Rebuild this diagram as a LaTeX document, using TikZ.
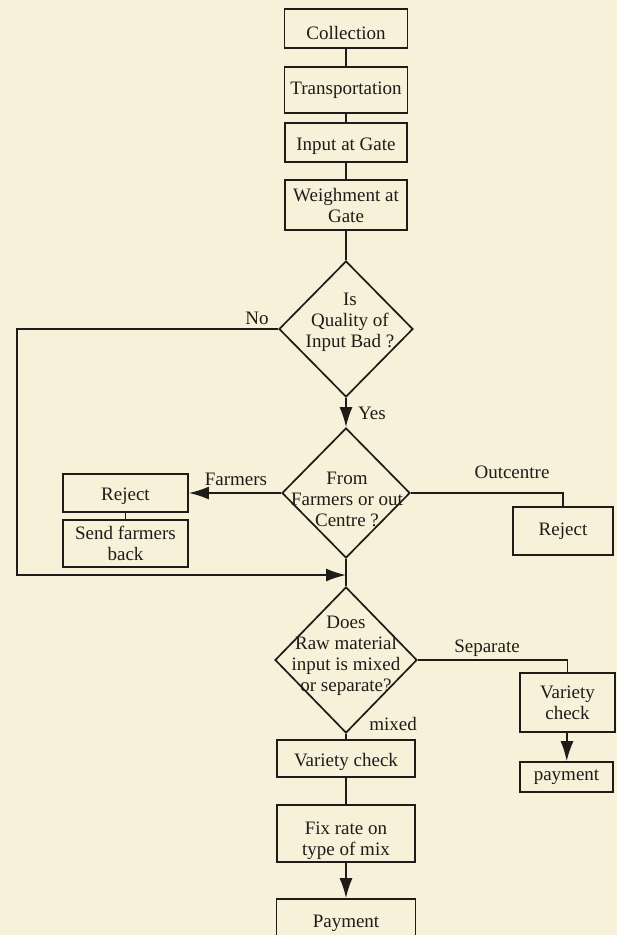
\documentclass[tikz,border=0pt]{standalone}
\usepackage{fontspec}
\setmainfont{Liberation Serif}
\usetikzlibrary{shapes.geometric,arrows.meta}
\definecolor{paper}{RGB}{246,241,216}
\definecolor{ink}{RGB}{30,28,25}
\newcommand{\lowr}[2]{\raisebox{-#1}[\height][\depth]{#2}}
\newcommand{\twol}[2]{\raisebox{-2.5pt}[\height][\depth]{\begin{tabular}{@{}c@{}}#1\\#2\end{tabular}}}
\begin{document}
\begin{tikzpicture}[x=1pt,y=-1pt,
  every node/.style={font=\fontsize{19}{21}\selectfont, text=ink},
  box/.style={draw=ink, line width=1.7pt, rectangle, inner sep=0pt, align=center},
  dia/.style={draw=ink, line width=1.7pt, diamond, inner sep=0pt},
  txt/.style={align=center, inner sep=0pt},
  lbl/.style={inner sep=0pt},
  conn/.style={draw=ink, line width=1.7pt},
  arr/.style={conn, -{Latex[length=20pt,width=13pt]}}
]
\fill[paper] (0,0) rectangle (617,935);
\useasboundingbox (0,0) rectangle (617,935);
\clip (0,0) rectangle (617,935);

% main column
\node[box, minimum width=123pt, minimum height=39pt] (col) at (346,28.5) {\lowr{4pt}{Collection}};
\node[box, minimum width=123pt, minimum height=46pt] (tra) at (346,90) {Transportation};
\node[box, minimum width=122pt, minimum height=39pt] (inp) at (346,142.5) {\lowr{4pt}{Input at Gate}};
\node[box, minimum width=122pt, minimum height=50pt] (wei) at (346,205) {\twol{Weighment at}{Gate}};

\node[dia, minimum width=134pt, minimum height=136pt] (d1) at (346,329) {};
\node[txt] (d1t) at (350,322) {Is\\Quality of\\Input Bad ?};

\node[dia, minimum width=128pt, minimum height=130pt] (d2) at (346,493) {};
\node[txt] (d2t) at (347,499) {From\\Farmers or out\\Centre ?};

\node[dia, minimum width=142pt, minimum height=146pt] (d3) at (346,660) {};
\node[txt] (d3t) at (346,656) {Does\\Raw material\\input is mixed\\or separate?};

\node[box, minimum width=138pt, minimum height=37pt] (vc) at (346,758.5) {\lowr{3pt}{Variety check}};
\node[box, minimum width=138pt, minimum height=57pt] (fix) at (346,833.5) {\lowr{5pt}{\twol{Fix rate on}{type of mix}}};
\node[box, minimum width=139pt, minimum height=50pt] (pay) at (346,924) {};
\node[txt] (payt) at (346,923) {Payment};

% left branch
\node[box, minimum width=125pt, minimum height=38pt] (rejl) at (125.5,493) {\lowr{3pt}{Reject}};
\node[box, minimum width=125pt, minimum height=47pt] (send) at (125.5,543.5) {\twol{Send farmers}{back}};

% right branches
\node[box, minimum width=100pt, minimum height=48pt] (rejr) at (563,531) {Reject};
\node[box, minimum width=95pt, minimum height=59pt] (vcr) at (567.5,702.5) {\twol{Variety}{check}};
\node[box, minimum width=93pt, minimum height=30pt] (payr) at (566.5,777) {payment};

% connectors main
\draw[conn] (col) -- (tra);
\draw[conn] (tra) -- (inp);
\draw[conn] (inp) -- (wei);
\draw[conn] (wei) -- (d1.north);
\draw[arr] (d1.south) -- (d2.north);
\draw[conn] (d2.south) -- (d3.north);
\coordinate (join) at (d2.south |- 0,575);
\draw[conn] (d3.south) -- (vc.north);
\draw[conn] (vc) -- (fix);
\draw[arr] (fix) -- (pay.north);

% No loop
\coordinate (nocorner) at (17,0);
\draw[arr] (d1.west) -- (d1.west -| nocorner) -- (join -| nocorner) -- (join);

% Farmers
\draw[arr] (d2.west) -- (rejl.east);
\draw[conn] (rejl) -- (send);

% Outcentre
\draw[conn] (d2.east) -| (rejr.north);

% Separate
\draw[conn] (d3.east) -| (vcr.north);
\draw[arr] (vcr) -- (payr);

% labels
\node[lbl] (lno) at (257,318) {No};
\node[lbl] (lyes) at (372,413) {Yes};
\node[lbl] (lfar) at (236,479) {Farmers};
\node[lbl] (lout) at (512,472) {Outcentre};
\node[lbl] (lsep) at (487,648) {Separate};
\node[lbl] (lmix) at (393,724) {mixed};
\end{tikzpicture}
\end{document}
